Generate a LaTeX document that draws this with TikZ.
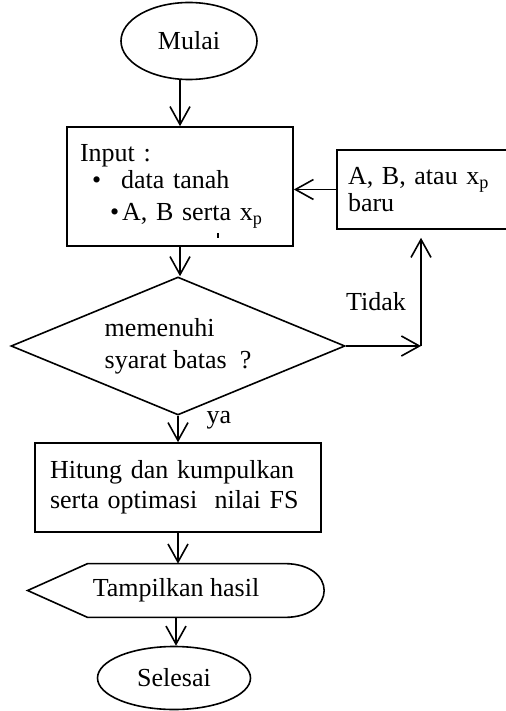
\documentclass[tikz,border=0pt]{standalone}
\usepackage{fontspec}
\setmainfont{Liberation Serif}
\usetikzlibrary{shapes.geometric,arrows.meta}
\tikzset{
huruf/.style={font=\fontsize{13}{15}\selectfont},
terminal/.style={draw,ellipse,huruf,inner sep=0pt,line width=0.8pt},
kotak/.style={draw,rectangle,huruf,align=left,line width=0.8pt},
panah/.style={-{Straight Barb[length=9pt,width=10pt]},line width=0.8pt}
}
\begin{document}
\begin{tikzpicture}[x=0.5pt,y=-0.5pt]
\useasboundingbox (0,0) rectangle (506,711);
\node[terminal,minimum width=68pt,minimum height=38.5pt] (mulai) at (189,41) {Mulai};
\node[kotak,minimum height=59.5pt,text width=100pt,inner xsep=6.5pt] (input) at (180,186.5) {Input :\\[-1.5pt]
\hspace*{6pt}\textbullet\hspace{10pt}data tanah\\[1pt]
\hspace*{15pt}\textbullet\hspace{1.5pt}A, B serta x\textsubscript{p}};
\node[kotak,minimum height=39.5pt,text width=75.5pt,inner xsep=5.5pt] (baru) at (423.5,189.5) {A, B, atau x\textsubscript{p}\\[-1.5pt]baru};
\node[draw,diamond,aspect=2.42,huruf,align=left,minimum width=167pt,minimum height=69pt,inner sep=0pt,line width=0.8pt] (cek) at (178,346) {memenuhi\\[1pt]syarat batas\ \ ?};
\node[kotak,minimum height=44.5pt,text width=128pt,inner xsep=7.5pt] (hitung) at (178,487.5) {Hitung dan kumpulkan\\serta optimasi\ \ nilai FS};
\node[huruf,minimum width=148pt,minimum height=26.5pt,inner sep=0pt] (tampil) at (176,590.5) {Tampilkan hasil};
\draw[line width=0.8pt] (tampil.west) -- ([xshift=30pt]tampil.north west) -- ([xshift=-20pt]tampil.north east)
.. controls ([xshift=6.5pt]tampil.north east) and ([xshift=6.5pt]tampil.south east) .. ([xshift=-20pt]tampil.south east)
-- ([xshift=30pt]tampil.south west) -- cycle;
\node[terminal,minimum width=76.5pt,minimum height=31.5pt] (selesai) at (174,678) {Selesai};
\node[huruf] (ya) at (219,420) {ya};
\node[huruf] (tidak) at (376,302) {Tidak};
\coordinate (belok) at (421,346);
\draw[panah] (mulai.south -| input.north) -- (input.north);
\draw[panah] (baru.west) -- (baru.west -| input.east);
\draw[panah] (input.south) -- (input.south |- cek.north);
\draw[panah] (cek.east) -- (belok);
\draw[panah,shorten >=4pt] (belok) -- (belok |- baru.south);
\draw[panah] (cek.south) -- (cek.south |- hitung.north);
\draw[panah] (hitung.south) -- (hitung.south |- tampil.north);
\draw[panah] (tampil.south) -- (tampil.south |- selesai.north);
%\node at (218,236) {'};
\draw[line width=1pt] (218,233) -- (218,238);
\end{tikzpicture}
\end{document}
